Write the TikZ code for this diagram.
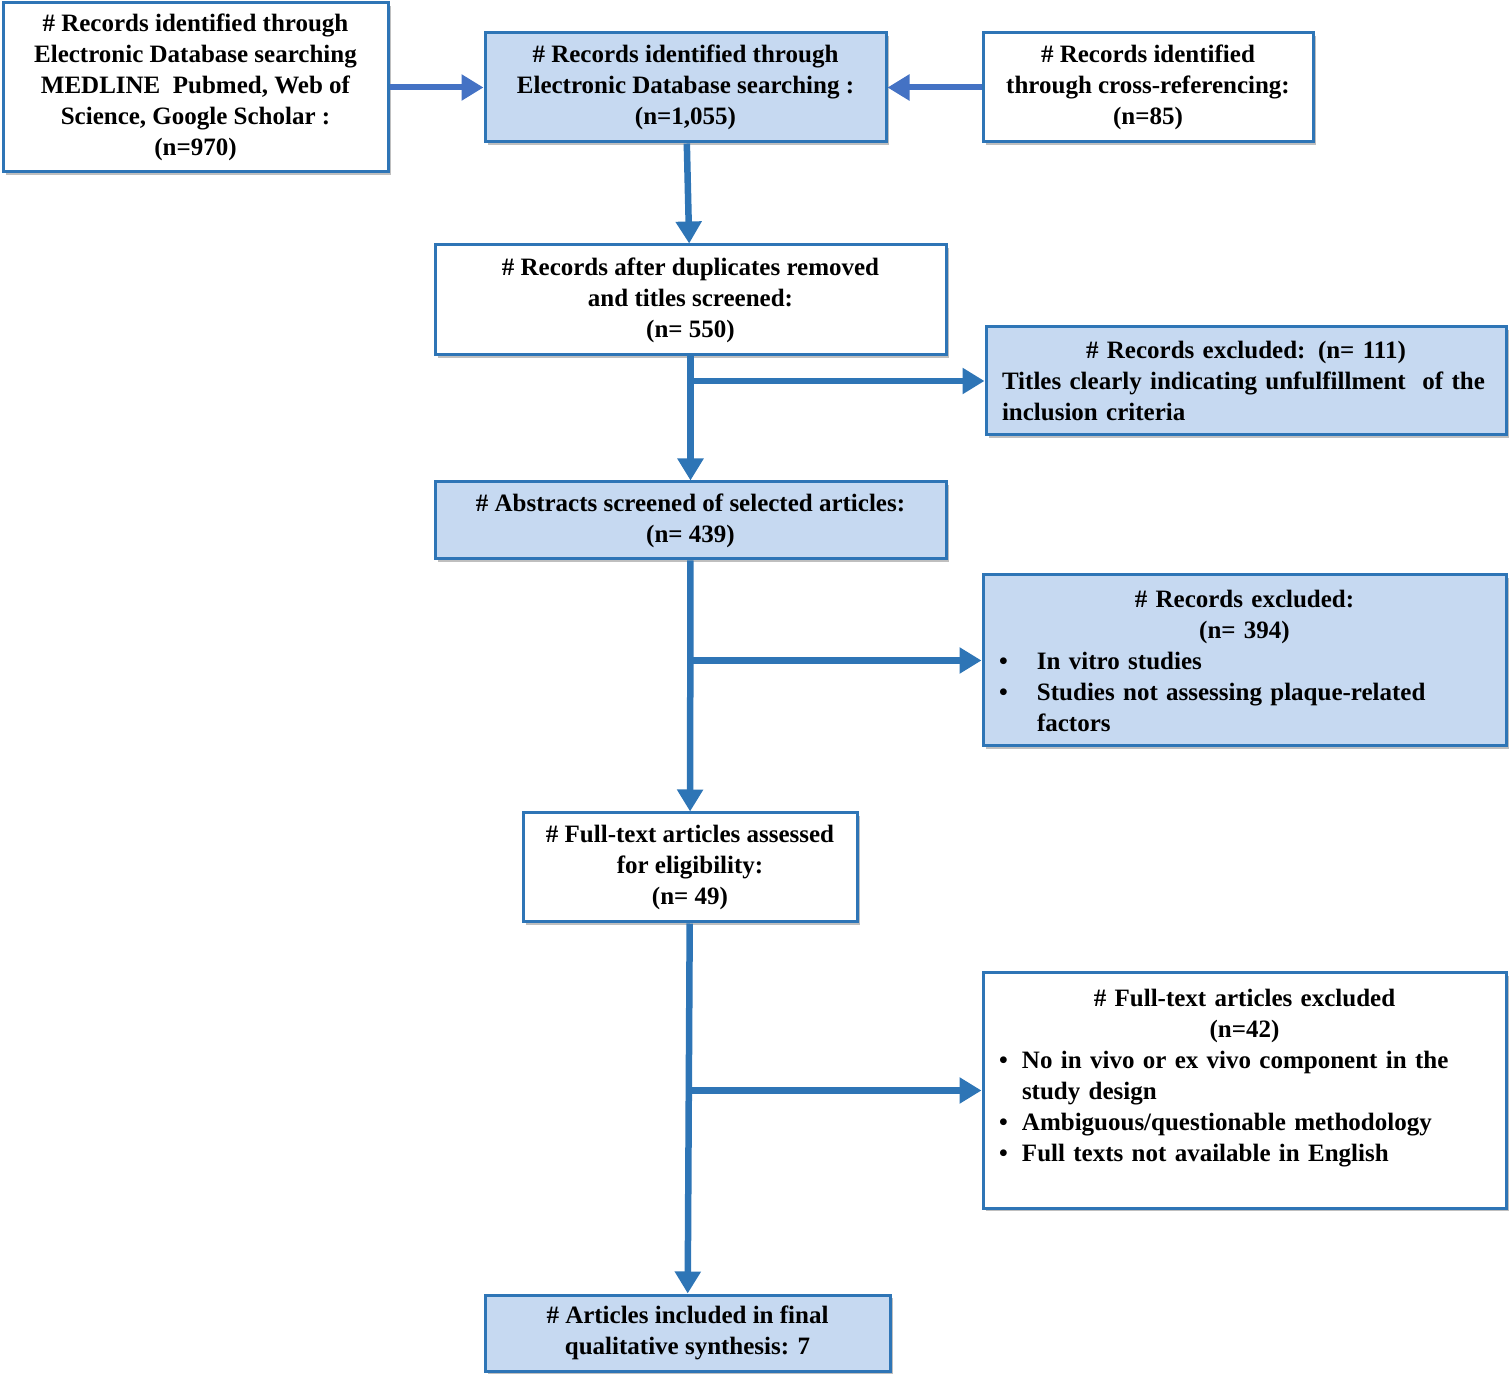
\documentclass[tikz,border=0pt]{standalone}
\usepackage{fontspec}
\setmainfont{Liberation Serif}
\usepackage{xcolor}
\usepackage{tikz}
\usetikzlibrary{positioning,arrows.meta,shadows}
\definecolor{boxblue}{RGB}{46,117,182}
\definecolor{boxfill}{RGB}{198,217,241}
\definecolor{sideblue}{RGB}{68,114,196}
\newcommand{\bulline}[2]{\hangindent=#1\hangafter=1\noindent\makebox[#1][l]{\textbullet}#2\par}

\begin{document}
\begin{tikzpicture}[x=0.5pt, y=-0.5pt,
  box/.style={draw=boxblue, line width=1.5pt, rectangle, fill=white, inner xsep=8pt, inner ysep=0pt,
    align=center, font=\fontsize{12.5}{15.5}\selectfont\bfseries,
    drop shadow={shadow xshift=1.5pt, shadow yshift=-1.5pt, opacity=0.25, fill=black}},
  shaded/.style={box, fill=boxfill},
  flow/.style={draw=boxblue, line width=3.25pt, -{Triangle[length=11pt,width=12.5pt]}},
  side/.style={flow, draw=sideblue, line width=3pt}]
\useasboundingbox (0,0) rectangle (1512,1379);

% identification
\node[box, minimum width=192.5pt, minimum height=84.5pt] (db970) at (195.5,87.5)
  {\# Records identified through\\ Electronic Database searching\\ MEDLINE\ \ Pubmed, Web of\\ Science, Google Scholar :\\ (n=970)};
\node[shaded, minimum width=200.5pt, minimum height=54.5pt] (db1055) at (685.5,87.5)
  {\# Records identified through\\ Electronic Database searching :\\ (n=1,055)};
\node[box, minimum width=165pt, minimum height=54.5pt] (cross85) at (1148,87.5)
  {\# Records identified\\ through cross-referencing:\\ (n=85)};

% screening
\node[box, minimum width=255.5pt, minimum height=55pt] (dup550) at (690.5,300)
  {\# Records after duplicates removed\\ and titles screened:\\ (n= 550)};
\node[shaded, minimum width=260pt, minimum height=54pt, text width=244pt] (excl111) at (1246,381)
  {\centering \# Records excluded: (n= 111)\par
   \raggedright Titles clearly indicating unfulfillment\ \ of the\newline inclusion criteria\par};
\node[shaded, minimum width=255.5pt, minimum height=38.5pt] (abs439) at (690.5,520.5)
  {\# Abstracts screened of selected articles:\\ (n= 439)};
\node[shaded, minimum width=261.5pt, minimum height=85.5pt, text width=245.5pt] (excl394) at (1244.5,660.5)
  {\centering \# Records excluded:\\ (n= 394)\par
   \raggedright
   \bulline{19pt}{In vitro studies}
   \bulline{19pt}{Studies not assessing plaque-related\newline factors}};

% eligibility
\node[box, minimum width=167pt, minimum height=54.5pt] (full49) at (690,867.5)
  {\# Full-text articles assessed\\ for eligibility:\\ (n= 49)};
\node[box, minimum width=261.5pt, minimum height=117.5pt, text width=245.5pt] (full42) at (1244.5,1090.5)
  {\centering \# Full-text articles excluded\\ (n=42)\par
   \raggedright
   \bulline{11.5pt}{No in vivo or ex vivo component in the\newline study design}
   \bulline{11.5pt}{Ambiguous/questionable methodology}
   \bulline{11.5pt}{Full texts not available in English}
   \mbox{}\par};

% included
\node[shaded, minimum width=202.5pt, minimum height=38pt] (final7) at (687.5,1333)
  {\# Articles included in final\\ qualitative synthesis: 7};

% branch points
\coordinate (br1) at (dup550.south |- excl111.west);
\coordinate (br2) at (abs439.south |- excl394.west);
\coordinate (br3) at (full49.south |- full42.west);

\draw[side] (db970) -- (db1055);
\draw[side] (cross85) -- (db1055);
\draw[flow] (db1055) -- (dup550);
\draw[flow] (dup550) -- (abs439);
\draw[flow] (br1) -- (excl111);
\draw[flow] (abs439) -- (full49);
\draw[flow] (br2) -- (excl394);
\draw[flow] (full49) -- (final7);
\draw[flow] (br3) -- (full42);
\end{tikzpicture}
\end{document}
